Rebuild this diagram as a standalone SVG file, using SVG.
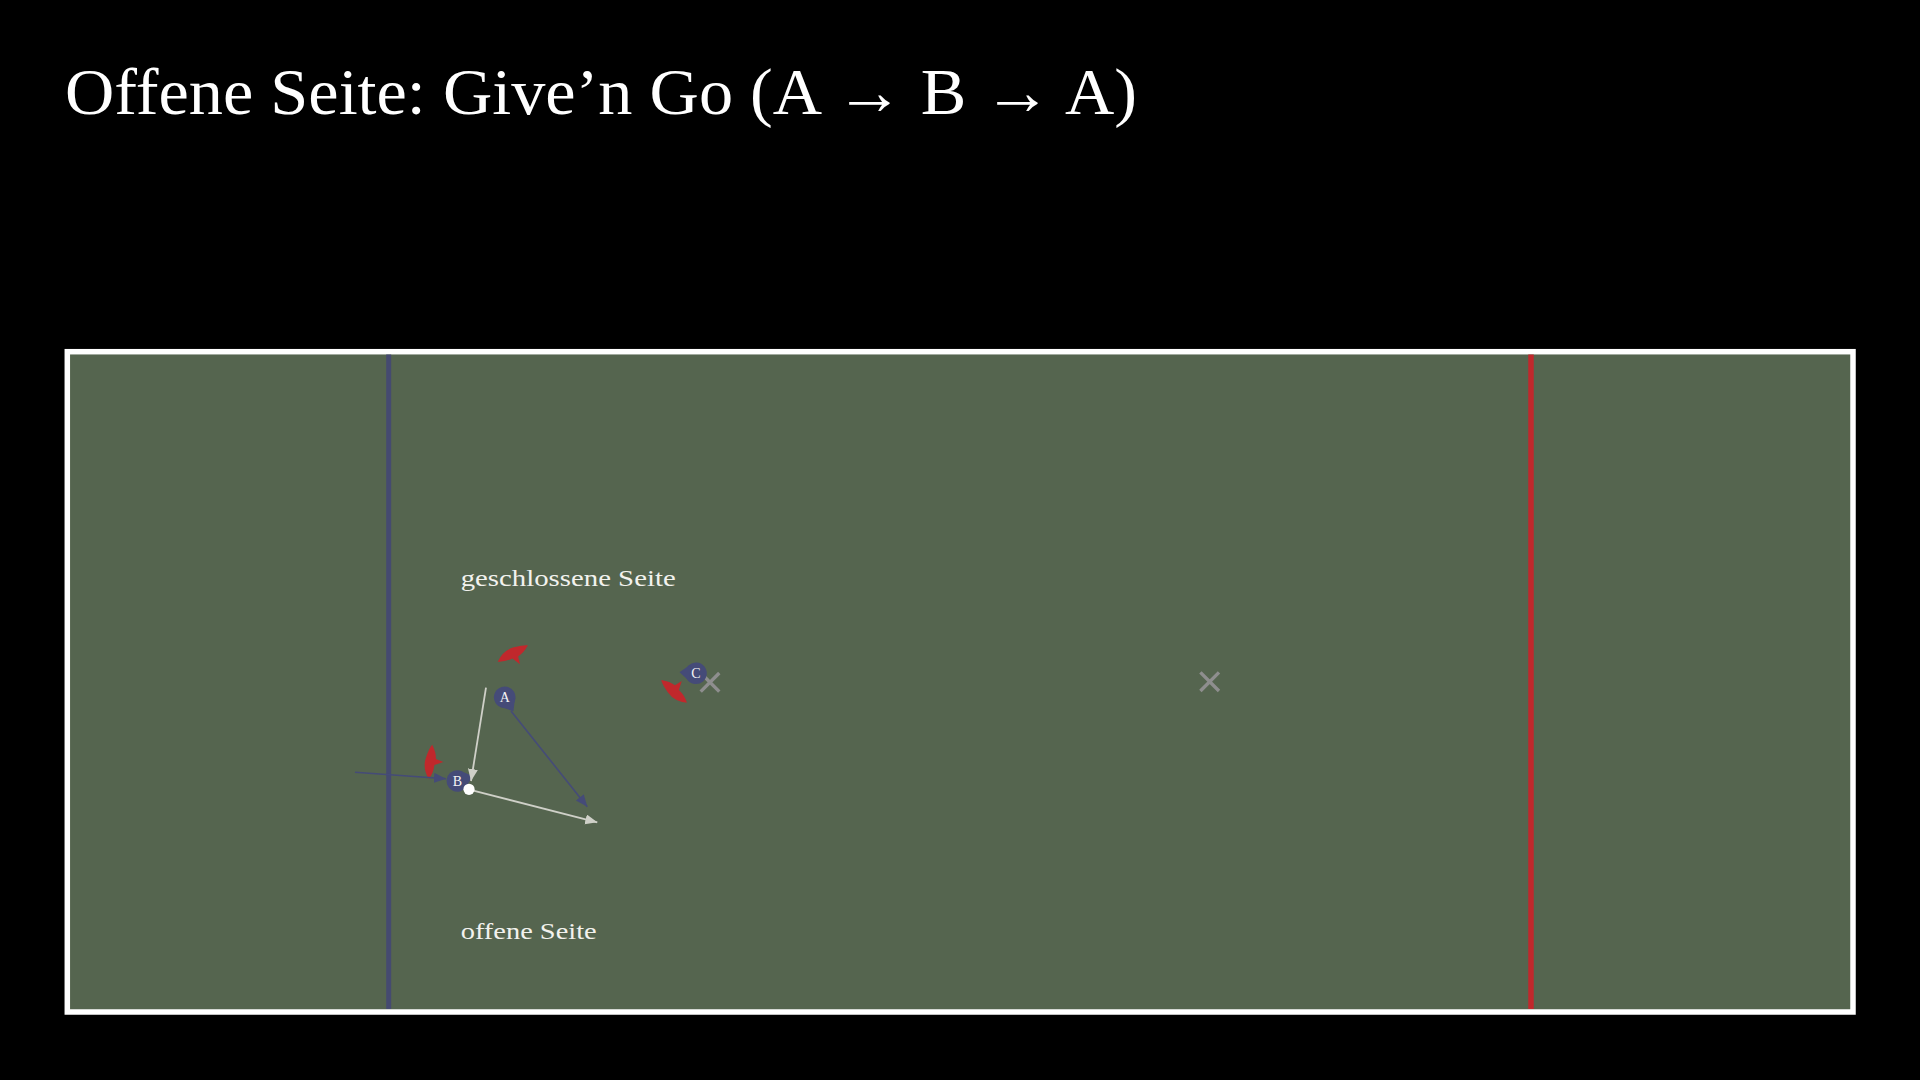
<svg xmlns="http://www.w3.org/2000/svg" width="1920" height="1080" viewBox="0 0 1920 1080">
<style>
.title{font-family:"Liberation Serif","DejaVu Serif",serif;font-size:66px;fill:#ffffff}
.lbl{font-family:"Liberation Serif","DejaVu Serif",serif;font-size:23px;fill:#f2f2ee}
.pl{font-family:"Liberation Serif","DejaVu Serif",serif;font-size:14px;fill:#f4f4f4;text-anchor:middle}
.att{fill:#454b78}
.def{fill:#c0282c}
.xm{stroke:#8e8e8e;stroke-width:3.4;fill:none}
.run{stroke:#454b78;stroke-width:1.6;fill:none;marker-end:url(#hb)}
.pass{stroke:#cfd0c8;stroke-width:1.8;fill:none;marker-end:url(#hg)}
</style>
<defs>
<marker id="hb" markerUnits="userSpaceOnUse" markerWidth="14" markerHeight="12" refX="12" refY="5" orient="auto"><path d="M0,0 L12,5 L0,10 Z" fill="#454b78"/></marker>
<marker id="hg" markerUnits="userSpaceOnUse" markerWidth="14" markerHeight="12" refX="12" refY="5" orient="auto"><path d="M0,0 L12,5 L0,10 Z" fill="#cfd0c8"/></marker>
<g id="attacker"><circle r="10.8" class="att"/><polygon points="16.5,0 6,-8.5 6,8.5" class="att"/></g>
<g id="defender"><path d="M-17,2 Q-8,-7 3,-6 Q14,-5 17,-3 Q10,3 4,4 L3,12 L-2,4 Q-10,5 -17,2 Z" class="def"/></g>
</defs>
<rect width="1920" height="1080" fill="#000000"/>
<text class="title" x="65" y="114" textLength="1072" lengthAdjust="spacingAndGlyphs">Offene Seite: Give’n Go (A → B → A)</text>
<g id="field">
<rect x="67.3" y="351.7" width="1785.7" height="660.3" fill="#55654f" stroke="#ffffff" stroke-width="5.5"/>
<line x1="388.7" y1="354.5" x2="388.7" y2="1009" stroke="#454a70" stroke-width="5"/>
<line x1="1531" y1="354.5" x2="1531" y2="1009" stroke="#c0282c" stroke-width="5.5"/>
<text class="lbl" x="460.7" y="586" textLength="215" lengthAdjust="spacingAndGlyphs">geschlossene Seite</text>
<text class="lbl" x="460.7" y="939" textLength="136" lengthAdjust="spacingAndGlyphs">offene Seite</text>
</g>
<g id="marks">
<g id="x1" class="xm"><path d="M700.7,673 L719.3,691.6 M719.3,673 L700.7,691.6"/></g>
<g id="x2" class="xm"><path d="M1200.4,672.4 L1219,691 M1219,672.4 L1200.4,691"/></g>
</g>
<g id="defenders">
<g id="defA"><use href="#defender" transform="translate(513,654) rotate(-20)"/></g>
<g id="defB"><use href="#defender" transform="translate(431,762) rotate(-76)"/></g>
<g id="defC"><use href="#defender" transform="translate(674.5,691) rotate(230)"/></g>
</g>
<g id="playerA"><use href="#attacker" transform="translate(504.7,697.3) rotate(58)"/><text class="pl" x="504.7" y="702.3">A</text></g>
<g id="playerB"><use href="#attacker" transform="translate(457.3,781) rotate(-18)"/><text class="pl" x="457.3" y="786">B</text></g>
<g id="playerC"><use href="#attacker" transform="translate(696,673.3) rotate(184)"/><text class="pl" x="696" y="678.3">C</text></g>
<g id="connectors">
<line class="run" x1="355" y1="772.3" x2="446" y2="778.7"/>
<line class="pass" x1="486" y1="687.7" x2="471" y2="781"/>
<line class="run" x1="511" y1="711" x2="587.3" y2="806.7"/>
<line class="pass" x1="473.3" y1="790.7" x2="597.3" y2="822.3"/>
</g>
<g id="ball"><circle cx="469" cy="789.3" r="5.6" fill="#ffffff"/></g>
</svg>
